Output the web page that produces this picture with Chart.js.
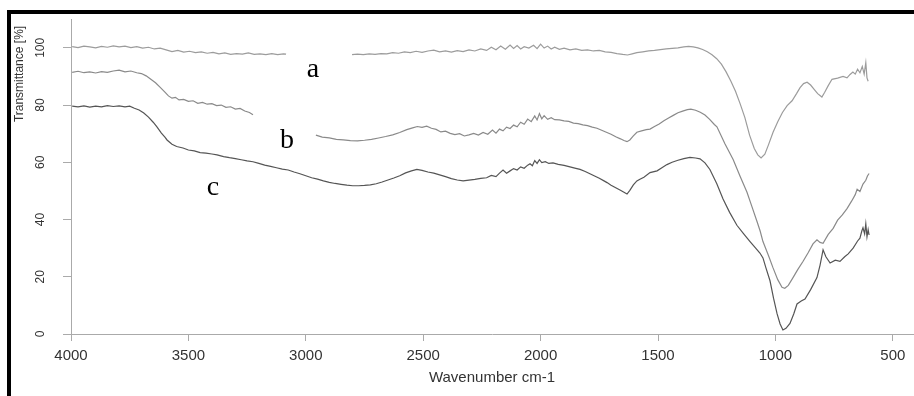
<!DOCTYPE html>
<html>
<head>
<meta charset="utf-8">
<script src="https://cdn.jsdelivr.net/npm/chart.js@4.4.1/dist/chart.umd.min.js"></script>
<style>
  html, body { margin: 0; padding: 0; background: #fff; }
  #wrap { position: relative; width: 914px; height: 396px; overflow: hidden; }
  #frame { position: absolute; left: 7px; top: 10px; right: 0; bottom: 0;
           border-top: 4px solid #000; border-left: 4px solid #000; pointer-events: none; }
</style>
</head>
<body>
<div id="wrap">
  <canvas id="myChart" width="914" height="396"></canvas>
  <div id="frame"></div>
</div>
<script>
  // tick labels
  const xTicks = [500, 1000, 1500, 2000, 2500, 3000, 3500, 4000];
  const yTicks = [0, 20, 40, 60, 80, 100];

  // curve labels (letter, wavenumber, transmittance at baseline)
  const tagText = ['a', 'b', 'c'];
  const tagWave = [2969, 3080, 3395];
  const tagT = [89.7, 64.9, 48.5];

  // series a
  const aWave = [3995, 3970, 3945, 3920, 3895, 3870, 3845, 3820, 3795, 3770, 3745, 3720, 3695, 3670, 3645, 3620, 3595, 3570, 3545, 3520,
    3495, 3470, 3445, 3420, 3395, 3370, 3345, 3320, 3295, 3270, 3245, 3220, 3195, 3170, 3145, 3120, 3095, 3084, 3000,
    2803, 2780, 2755, 2730, 2705, 2680, 2655, 2630, 2605, 2580, 2555, 2530, 2505, 2480, 2455, 2430, 2405, 2380, 2355, 2330,
    2305, 2280, 2255, 2230, 2210, 2190, 2170, 2150, 2130, 2115, 2100, 2085, 2070, 2050, 2030, 2015, 2000, 1985, 1970, 1955,
    1940, 1920, 1900, 1875, 1850, 1825, 1800, 1775, 1750, 1725, 1700, 1675, 1650, 1630, 1610, 1590, 1565, 1540, 1515, 1490,
    1465, 1440, 1415, 1390, 1370, 1350, 1330, 1310, 1290, 1270, 1250, 1230, 1210, 1190, 1170, 1150, 1130, 1110, 1090, 1075,
    1061, 1045, 1030, 1010, 990, 970, 950, 929, 910, 895, 880, 865, 850, 835, 820, 802, 790, 775, 759, 735,
    712, 695, 682, 670, 660, 650, 640, 630, 622, 615, 610, 605];
  const aT = [100.4, 100.1, 100.6, 100.3, 100.0, 100.5, 100.2, 100.7, 100.3, 100.6, 100.1, 100.4, 99.9, 100.2, 99.6, 99.9, 99.3, 98.7, 99.1, 98.5,
    98.8, 98.3, 98.6, 98.1, 98.4, 97.9, 98.2, 97.7, 98.0, 97.8, 98.2, 97.7, 97.9, 97.6, 98.0, 97.6, 97.9, 97.8, null,
    97.6, 97.8, 97.6, 97.9, 97.7, 98.0, 97.9, 98.3, 98.1, 98.6, 98.3, 98.8, 98.4, 98.9, 99.2, 98.6, 98.9, 98.5, 99.0, 98.7,
    99.3, 98.9, 99.6, 99.1, 100.2, 99.3, 100.6, 99.5, 101.0, 99.8, 100.8, 99.6, 100.4, 99.9, 100.9, 99.7, 101.3, 99.9, 100.6, 99.6,
    100.2, 99.5, 99.9, 99.3, 99.6, 99.1, 99.3, 98.9, 99.1, 98.6, 98.4, 98.0, 97.7, 97.5, 97.9, 98.3, 98.6, 98.9, 99.1, 99.4,
    99.6, 99.8, 100.0, 100.3, 100.5, 100.3, 100.0, 99.4, 98.6, 97.6, 96.2, 94.3, 91.6, 88.4, 84.8, 80.4, 75.6, 69.5, 64.8, 62.6,
    61.5, 62.8, 66.0, 70.5, 74.2, 77.4, 79.8, 81.5, 84.0, 86.1, 87.5, 88.0, 87.0, 85.5, 84.0, 82.8, 84.5, 86.8, 89.0, 89.4,
    90.0, 89.5, 90.7, 91.5, 90.8, 92.5, 91.3, 93.5, 90.8, 94.8, 89.5, 88.3];

  // series b
  const bWave = [3995, 3970, 3945, 3920, 3895, 3870, 3845, 3820, 3795, 3770, 3745, 3720, 3700, 3680, 3660, 3640, 3620, 3600, 3585, 3570,
    3555, 3540, 3520, 3500, 3480, 3460, 3440, 3420, 3400, 3380, 3360, 3340, 3320, 3300, 3280, 3260, 3240, 3225, 3100,
    2957, 2930, 2900, 2870, 2840, 2810, 2780, 2750, 2720, 2690, 2660, 2630, 2600, 2570, 2545, 2525, 2505, 2485, 2465, 2445,
    2425, 2405, 2385, 2365, 2345, 2325, 2305, 2285, 2265, 2245, 2225, 2205, 2190, 2175, 2160, 2145, 2130, 2115, 2100, 2085,
    2070, 2055, 2040, 2025, 2015, 2005, 1995, 1985, 1970, 1955, 1940, 1920, 1900, 1880, 1860, 1840, 1820, 1800, 1780, 1760,
    1740, 1720, 1700, 1680, 1660, 1645, 1632, 1620, 1605, 1590, 1570, 1550, 1534, 1515, 1495, 1475, 1455, 1435, 1415, 1395,
    1375, 1360, 1340, 1320, 1300, 1280, 1260, 1249, 1215, 1180, 1150, 1121, 1100, 1078, 1065, 1053, 1030, 1010, 990, 972,
    960, 945, 925, 905, 882, 860, 840, 823, 810, 797, 775, 754, 735, 715, 695, 675, 660, 652, 640, 627,
    615, 608, 601];
  const bT = [91.4, 91.8, 91.3, 91.6, 91.2, 91.7, 91.4, 91.9, 92.2, 91.6, 91.9, 91.3, 91.0, 90.2, 89.0, 87.8, 86.2, 84.5, 83.2, 82.4,
    82.7, 81.8, 82.0, 81.3, 81.5, 80.6, 80.9, 80.3, 80.5, 79.8, 80.0, 79.2, 79.4, 78.6, 78.8, 77.9, 77.4, 76.6, null,
    69.5, 68.8, 68.5, 68.0, 67.8, 67.6, 67.5, 67.7, 68.0, 68.5, 69.0, 69.6, 70.4, 71.4, 72.0, 72.5, 72.2, 72.6, 71.9, 71.5,
    70.6, 70.9, 70.1, 69.7, 70.0, 69.2, 69.6, 70.1, 69.5, 70.4, 69.8, 71.3, 70.2, 71.6, 71.0, 72.3, 71.8, 73.0, 72.4, 74.0,
    73.3, 75.1, 74.2, 76.2, 74.8, 77.0, 75.2, 76.3, 75.0, 75.6, 74.9, 74.8, 74.5, 74.3, 73.7, 73.5, 73.1, 72.8, 72.3, 71.9,
    71.2, 70.5, 69.8, 68.9, 68.2, 67.6, 67.2, 67.8, 69.2, 70.5, 71.0, 71.4, 71.6, 72.5, 73.4, 74.5, 75.5, 76.4, 77.3, 77.9,
    78.4, 78.6, 78.2, 77.5, 76.5, 75.0, 73.2, 72.4, 66.5, 61.0, 55.0, 49.5, 44.5, 39.2, 36.0, 32.3, 27.5, 23.1, 19.0, 16.3,
    16.0, 17.0, 19.7, 22.5, 25.4, 28.5, 31.5, 32.9, 32.0, 31.7, 34.8, 36.9, 39.8, 41.6, 43.8, 46.5, 48.7, 50.6, 49.8, 52.4,
    53.7, 55.2, 56.1];

  // series c
  const cWave = [3995, 3970, 3945, 3920, 3895, 3870, 3845, 3820, 3795, 3770, 3750, 3730, 3710, 3690, 3670, 3650, 3634, 3615, 3600, 3591,
    3570, 3550, 3523, 3500, 3475, 3450, 3425, 3400, 3378, 3350, 3325, 3300, 3275, 3250, 3225, 3200, 3175, 3150, 3125, 3100,
    3075, 3050, 3025, 3000, 2975, 2950, 2925, 2900, 2875, 2850, 2825, 2800, 2775, 2750, 2725, 2700, 2675, 2650, 2625, 2600,
    2575, 2550, 2527, 2505, 2480, 2455, 2430, 2405, 2380, 2355, 2330, 2305, 2280, 2255, 2230, 2210, 2190, 2175, 2160, 2145,
    2130, 2115, 2100, 2085, 2070, 2055, 2045, 2035, 2025, 2015, 2005, 1995, 1980, 1965, 1947, 1925, 1900, 1875, 1850, 1832,
    1810, 1790, 1770, 1750, 1730, 1717, 1700, 1680, 1660, 1645, 1632, 1620, 1605, 1590, 1577, 1560, 1534, 1504, 1485, 1462,
    1440, 1415, 1390, 1364, 1340, 1321, 1300, 1279, 1250, 1223, 1195, 1164, 1135, 1108, 1085, 1066, 1053, 1040, 1023, 1008,
    993, 980, 968, 955, 938, 922, 908, 890, 874, 850, 823, 810, 797, 785, 767, 745, 725, 705, 690, 669,
    650, 640, 632, 627, 620, 615, 610, 605, 601];
  const cT = [79.6, 79.4, 79.7, 79.3, 79.6, 79.4, 79.8, 79.5, 79.7, 79.4, 79.6, 78.9, 78.3, 77.2, 75.8, 74.0, 72.4, 70.2, 68.8, 67.8,
    66.3, 65.5, 65.0, 64.3, 64.0, 63.4, 63.2, 62.9, 62.6, 62.0, 61.6, 61.3, 60.9, 60.5, 60.2, 59.6, 59.0, 58.6, 58.1, 57.6,
    57.3, 56.6, 56.0, 55.3, 54.6, 54.1, 53.5, 53.0, 52.6, 52.3, 52.0, 51.8, 51.8, 51.9, 52.1, 52.5, 53.1, 53.8, 54.5, 55.3,
    56.3, 57.0, 57.5, 57.2, 56.6, 56.2, 55.6, 55.0, 54.3, 53.8, 53.5, 53.8, 54.0, 54.4, 54.6, 55.4, 55.0, 56.2, 57.3, 56.2,
    57.0, 57.8, 57.3, 58.4, 57.9, 59.0, 59.5, 58.8, 60.6, 59.6, 60.9, 59.9, 60.2, 59.6, 59.8, 59.3, 58.9, 58.4, 57.9, 57.5,
    56.8, 56.0, 55.2, 54.4, 53.5, 52.9, 52.0, 51.1, 50.2, 49.5, 48.9, 50.2, 52.1, 53.5, 54.1, 54.8, 56.4, 57.0, 58.0, 59.2,
    60.0, 60.7, 61.3, 61.7, 61.5, 61.2, 59.8, 57.5, 52.6, 47.2, 42.5, 38.0, 35.0, 32.3, 30.1, 28.3, 26.6, 23.0, 18.6, 12.5,
    7.1, 3.5, 1.4, 2.0, 3.7, 7.0, 10.5, 11.5, 12.2, 15.5, 19.7, 24.0, 29.4, 27.0, 24.8, 25.8, 25.4, 27.0, 28.0, 30.0,
    32.5, 33.5, 36.0, 37.1, 35.0, 38.5, 34.0, 36.5, 34.6];

  const pts = (w, t) => w.map((x, i) => ({x: x, y: t[i]}));
  const sans = '"Liberation Sans", Arial, sans-serif';

  const tagPlugin = {
    id: 'tags',
    afterDatasetsDraw(chart) {
      const c = chart.ctx;
      c.save();
      c.font = '28px "Liberation Serif", "Times New Roman", serif';
      c.fillStyle = '#000';
      c.textAlign = 'center';
      c.textBaseline = 'alphabetic';
      tagText.forEach((s, i) => {
        c.fillText(s, chart.scales.x.getPixelForValue(tagWave[i]), chart.scales.y.getPixelForValue(tagT[i]));
      });
      c.restore();
    }
  };

  const line = (w, t, col) => ({
    data: pts(w, t),
    borderColor: col,
    borderWidth: 1.2,
    pointRadius: 0,
    tension: 0,
    spanGaps: false
  });

  const ctx = document.getElementById('myChart').getContext('2d');
  const myChart = new Chart(ctx, {
    type: 'line',
    data: {
      datasets: [
        line(aWave, aT, '#9c9c9c'),
        line(bWave, bT, '#8a8a8a'),
        line(cWave, cT, '#555555')
      ]
    },
    options: {
      responsive: false,
      animation: false,
      devicePixelRatio: 1,
      layout: { padding: { top: 14, right: 1, left: 0, bottom: 0 } },
      plugins: { legend: { display: false }, tooltip: { enabled: false } },
      scales: {
        x: {
          type: 'linear',
          reverse: true,
          min: 414,
          max: 4000,
          afterBuildTicks: s => { s.ticks = xTicks.map(v => ({value: v})); },
          afterFit: s => { s.height = 62; },
          grid: { drawOnChartArea: false, drawTicks: true, tickLength: 7, color: '#aaa' },
          border: { display: true, color: '#aaa' },
          ticks: { font: { family: sans, size: 15 }, color: '#333', padding: 6, maxRotation: 0,
                   callback: v => String(v) },
          title: { display: true, text: 'Wavenumber cm-1', font: { family: sans, size: 15 }, color: '#333',
                   padding: { top: 0, bottom: 9 } }
        },
        y: {
          min: 0,
          max: 110,
          afterBuildTicks: s => { s.ticks = yTicks.map(v => ({value: v})); },
          afterFit: s => { s.width = 71; },
          grid: { drawOnChartArea: false, drawTicks: true, tickLength: 8, color: '#aaa' },
          border: { display: true, color: '#aaa' },
          ticks: { font: { family: sans, size: 12 }, color: '#333', padding: 12,
                   minRotation: 90, maxRotation: 90, crossAlign: 'center', callback: v => String(v) },
          title: { display: true, text: 'Transmittance [%]  ', align: 'end', font: { family: sans, size: 12 },
                   color: '#333', padding: { top: 12, bottom: 0 } }
        }
      }
    },
    plugins: [tagPlugin]
  });
</script>
</body>
</html>
